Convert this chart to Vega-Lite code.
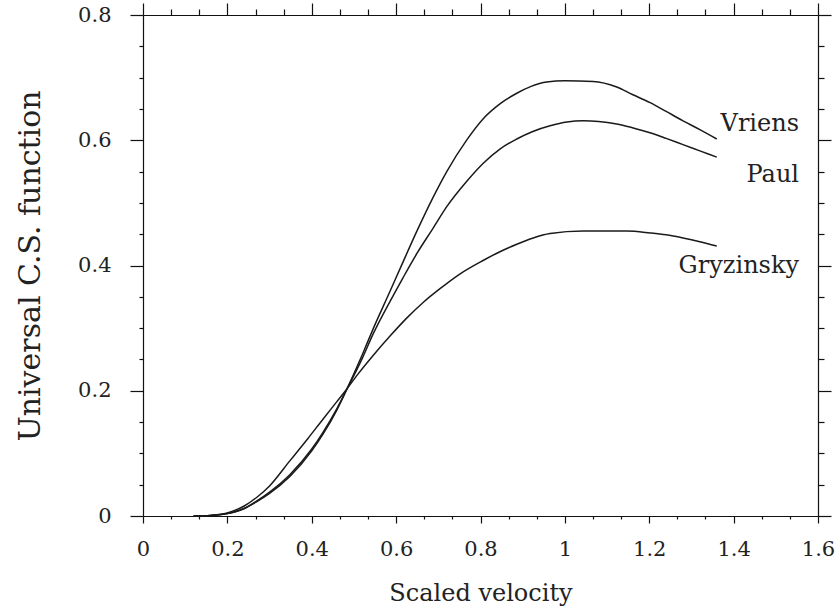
{
  "$schema": "https://vega.github.io/schema/vega-lite/v6.json",
  "width": 675,
  "height": 501,
  "autosize": "none",
  "padding": {"left": 143, "top": 15, "right": 22, "bottom": 96},
  "background": "white",
  "config": {
    "view": {"stroke": null},
    "font": "DejaVu Serif",
    "axis": {
      "grid": false,
      "domainColor": "#111",
      "tickColor": "#111",
      "labelColor": "#222",
      "titleColor": "#222",
      "labelFont": "DejaVu Serif",
      "titleFont": "DejaVu Serif",
      "titleFontWeight": "normal",
      "labelFontSize": 21,
      "titleFontSize": 24,
      "domainWidth": 1.2,
      "tickWidth": 1.2
    }
  },
  "datasets": {
    "curves": [
      {"model": "Vriens", "v": 0.12, "f": 0},
      {"model": "Vriens", "v": 0.16, "f": 0.001},
      {"model": "Vriens", "v": 0.2, "f": 0.004},
      {"model": "Vriens", "v": 0.24, "f": 0.012},
      {"model": "Vriens", "v": 0.27, "f": 0.023},
      {"model": "Vriens", "v": 0.3, "f": 0.036},
      {"model": "Vriens", "v": 0.348, "f": 0.063},
      {"model": "Vriens", "v": 0.4, "f": 0.104},
      {"model": "Vriens", "v": 0.427, "f": 0.131},
      {"model": "Vriens", "v": 0.46, "f": 0.17},
      {"model": "Vriens", "v": 0.48, "f": 0.198},
      {"model": "Vriens", "v": 0.52, "f": 0.258},
      {"model": "Vriens", "v": 0.545, "f": 0.298},
      {"model": "Vriens", "v": 0.585, "f": 0.358},
      {"model": "Vriens", "v": 0.612, "f": 0.399},
      {"model": "Vriens", "v": 0.65, "f": 0.456},
      {"model": "Vriens", "v": 0.687, "f": 0.508},
      {"model": "Vriens", "v": 0.72, "f": 0.55},
      {"model": "Vriens", "v": 0.768, "f": 0.601},
      {"model": "Vriens", "v": 0.806, "f": 0.634},
      {"model": "Vriens", "v": 0.846, "f": 0.658},
      {"model": "Vriens", "v": 0.886, "f": 0.675},
      {"model": "Vriens", "v": 0.92, "f": 0.686},
      {"model": "Vriens", "v": 0.957, "f": 0.693},
      {"model": "Vriens", "v": 1.0, "f": 0.695},
      {"model": "Vriens", "v": 1.067, "f": 0.694},
      {"model": "Vriens", "v": 1.123, "f": 0.685},
      {"model": "Vriens", "v": 1.16, "f": 0.673},
      {"model": "Vriens", "v": 1.202, "f": 0.66},
      {"model": "Vriens", "v": 1.24, "f": 0.646},
      {"model": "Vriens", "v": 1.28, "f": 0.631},
      {"model": "Vriens", "v": 1.32, "f": 0.617},
      {"model": "Vriens", "v": 1.36, "f": 0.602},
      {"model": "Paul", "v": 0.12, "f": 0},
      {"model": "Paul", "v": 0.16, "f": 0.001},
      {"model": "Paul", "v": 0.2, "f": 0.004},
      {"model": "Paul", "v": 0.24, "f": 0.012},
      {"model": "Paul", "v": 0.27, "f": 0.024},
      {"model": "Paul", "v": 0.3, "f": 0.038},
      {"model": "Paul", "v": 0.348, "f": 0.066},
      {"model": "Paul", "v": 0.4, "f": 0.107},
      {"model": "Paul", "v": 0.427, "f": 0.134},
      {"model": "Paul", "v": 0.46, "f": 0.172},
      {"model": "Paul", "v": 0.48, "f": 0.198},
      {"model": "Paul", "v": 0.52, "f": 0.252},
      {"model": "Paul", "v": 0.545, "f": 0.29},
      {"model": "Paul", "v": 0.585, "f": 0.342},
      {"model": "Paul", "v": 0.616, "f": 0.38},
      {"model": "Paul", "v": 0.65, "f": 0.42},
      {"model": "Paul", "v": 0.687, "f": 0.459},
      {"model": "Paul", "v": 0.72, "f": 0.494},
      {"model": "Paul", "v": 0.768, "f": 0.535},
      {"model": "Paul", "v": 0.806, "f": 0.563},
      {"model": "Paul", "v": 0.846, "f": 0.586},
      {"model": "Paul", "v": 0.886, "f": 0.602},
      {"model": "Paul", "v": 0.924, "f": 0.614},
      {"model": "Paul", "v": 0.965, "f": 0.623},
      {"model": "Paul", "v": 1.005, "f": 0.629},
      {"model": "Paul", "v": 1.043, "f": 0.631},
      {"model": "Paul", "v": 1.08, "f": 0.63},
      {"model": "Paul", "v": 1.123, "f": 0.626},
      {"model": "Paul", "v": 1.16, "f": 0.62},
      {"model": "Paul", "v": 1.202, "f": 0.612},
      {"model": "Paul", "v": 1.24, "f": 0.603},
      {"model": "Paul", "v": 1.28, "f": 0.593},
      {"model": "Paul", "v": 1.32, "f": 0.583},
      {"model": "Paul", "v": 1.36, "f": 0.573},
      {"model": "Gryzinsky", "v": 0.12, "f": 0},
      {"model": "Gryzinsky", "v": 0.16, "f": 0.001},
      {"model": "Gryzinsky", "v": 0.2, "f": 0.005},
      {"model": "Gryzinsky", "v": 0.24, "f": 0.016},
      {"model": "Gryzinsky", "v": 0.27, "f": 0.03},
      {"model": "Gryzinsky", "v": 0.3, "f": 0.048},
      {"model": "Gryzinsky", "v": 0.348, "f": 0.088},
      {"model": "Gryzinsky", "v": 0.39, "f": 0.123},
      {"model": "Gryzinsky", "v": 0.427, "f": 0.155},
      {"model": "Gryzinsky", "v": 0.46, "f": 0.183},
      {"model": "Gryzinsky", "v": 0.48, "f": 0.2},
      {"model": "Gryzinsky", "v": 0.51, "f": 0.227},
      {"model": "Gryzinsky", "v": 0.545, "f": 0.256},
      {"model": "Gryzinsky", "v": 0.585, "f": 0.287},
      {"model": "Gryzinsky", "v": 0.625, "f": 0.316},
      {"model": "Gryzinsky", "v": 0.664, "f": 0.341},
      {"model": "Gryzinsky", "v": 0.704, "f": 0.363},
      {"model": "Gryzinsky", "v": 0.75, "f": 0.386},
      {"model": "Gryzinsky", "v": 0.806, "f": 0.408},
      {"model": "Gryzinsky", "v": 0.846, "f": 0.422},
      {"model": "Gryzinsky", "v": 0.886, "f": 0.434},
      {"model": "Gryzinsky", "v": 0.925, "f": 0.444},
      {"model": "Gryzinsky", "v": 0.965, "f": 0.451},
      {"model": "Gryzinsky", "v": 1.043, "f": 0.455},
      {"model": "Gryzinsky", "v": 1.147, "f": 0.455},
      {"model": "Gryzinsky", "v": 1.202, "f": 0.452},
      {"model": "Gryzinsky", "v": 1.24, "f": 0.449},
      {"model": "Gryzinsky", "v": 1.28, "f": 0.444},
      {"model": "Gryzinsky", "v": 1.32, "f": 0.438},
      {"model": "Gryzinsky", "v": 1.36, "f": 0.431}
    ],
    "labels": [
      {"model": "Vriens", "v": 1.555, "f": 0.615},
      {"model": "Paul", "v": 1.555, "f": 0.534},
      {"model": "Gryzinsky", "v": 1.555, "f": 0.388}
    ]
  },
  "layer": [
    {
      "data": {"name": "curves"},
      "mark": {"type": "line", "color": "#1a1a1a", "strokeWidth": 1.5, "interpolate": "monotone"},
      "encoding": {
        "x": {
          "field": "v", "type": "quantitative",
          "scale": {"domain": [0, 1.6], "nice": false, "zero": false},
          "axis": {
            "orient": "bottom",
            "values": [0, 0.2, 0.4, 0.6, 0.8, 1, 1.2, 1.4, 1.6],
            "format": "~g",
            "tickSize": 7,
            "labelPadding": 15,
            "title": "Scaled velocity",
            "titlePadding": 22,
            "labelFlush": false,
            "labelOverlap": false
          }
        },
        "y": {
          "field": "f", "type": "quantitative",
          "scale": {"domain": [0, 0.8], "nice": false, "zero": false},
          "axis": {
            "orient": "left",
            "values": [0, 0.2, 0.4, 0.6, 0.8],
            "format": "~g",
            "tickSize": 13,
            "labelPadding": 19,
            "title": "Universal C.S. function",
            "titleFontSize": 30,
            "titlePadding": 32,
            "labelFlush": false,
            "labelOverlap": false
          }
        },
        "detail": {"field": "model"}
      }
    },
    {
      "data": {"name": "labels"},
      "mark": {"type": "text", "align": "right", "baseline": "alphabetic", "font": "DejaVu Serif", "fontSize": 24, "color": "#222"},
      "encoding": {
        "x": {
          "field": "v", "type": "quantitative",
          "scale": {"domain": [0, 1.6], "nice": false, "zero": false},
          "axis": {
            "orient": "top",
            "values": [0, 0.2, 0.4, 0.6, 0.8, 1, 1.2, 1.4, 1.6],
            "tickSize": 12,
            "labels": false,
            "title": null
          }
        },
        "y": {
          "field": "f", "type": "quantitative",
          "scale": {"domain": [0, 0.8], "nice": false, "zero": false},
          "axis": {
            "orient": "right",
            "values": [0, 0.2, 0.4, 0.6, 0.8],
            "tickSize": 13,
            "labels": false,
            "title": null
          }
        },
        "text": {"field": "model"}
      }
    },
    {
      "data": {"name": "labels"},
      "mark": {"type": "point", "opacity": 0},
      "encoding": {
        "x": {
          "field": "v", "type": "quantitative",
          "scale": {"domain": [0, 1.6], "nice": false, "zero": false},
          "axis": {
            "orient": "bottom",
            "values": [0.0667, 0.1333, 0.2667, 0.3333, 0.4667, 0.5333, 0.6667, 0.7333, 0.8667, 0.9333, 1.0667, 1.1333, 1.2667, 1.3333, 1.4667, 1.5333],
            "tickSize": 3,
            "labels": false,
            "domain": false,
            "title": null
          }
        },
        "y": {
          "field": "f", "type": "quantitative",
          "scale": {"domain": [0, 0.8], "nice": false, "zero": false},
          "axis": {
            "orient": "left",
            "values": [0.05, 0.1, 0.15, 0.25, 0.3, 0.35, 0.45, 0.5, 0.55, 0.65, 0.7, 0.75],
            "tickSize": 4,
            "labels": false,
            "domain": false,
            "title": null
          }
        }
      }
    },
    {
      "data": {"name": "labels"},
      "mark": {"type": "point", "opacity": 0},
      "encoding": {
        "x": {
          "field": "v", "type": "quantitative",
          "scale": {"domain": [0, 1.6], "nice": false, "zero": false},
          "axis": {
            "orient": "top",
            "values": [0.0667, 0.1333, 0.2667, 0.3333, 0.4667, 0.5333, 0.6667, 0.7333, 0.8667, 0.9333, 1.0667, 1.1333, 1.2667, 1.3333, 1.4667, 1.5333],
            "tickSize": 6,
            "labels": false,
            "domain": false,
            "title": null
          }
        },
        "y": {
          "field": "f", "type": "quantitative",
          "scale": {"domain": [0, 0.8], "nice": false, "zero": false},
          "axis": {
            "orient": "right",
            "values": [0.05, 0.1, 0.15, 0.25, 0.3, 0.35, 0.45, 0.5, 0.55, 0.65, 0.7, 0.75],
            "tickSize": 6,
            "labels": false,
            "domain": false,
            "title": null
          }
        }
      }
    }
  ],
  "resolve": {"axis": {"x": "independent", "y": "independent"}}
}
